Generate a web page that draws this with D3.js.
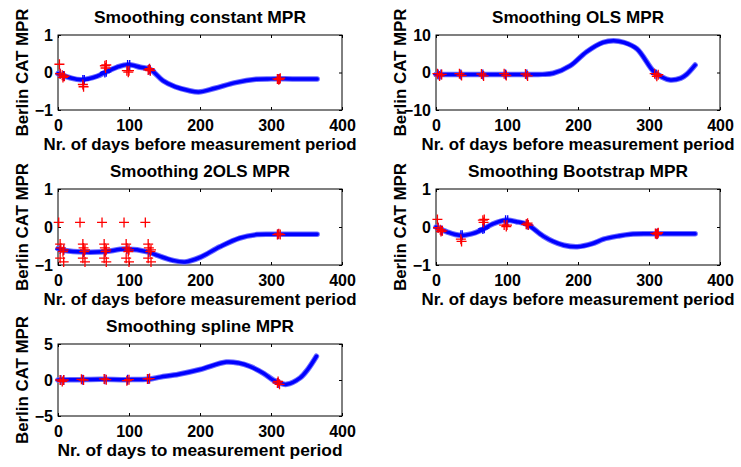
<!DOCTYPE html>
<html>
<head>
<meta charset="utf-8">
<script src="https://cdn.jsdelivr.net/npm/d3@7"></script>
<style>
body { margin: 0; background: #fff; }
svg text { font-family: "Liberation Sans", Arial, sans-serif; font-weight: bold; fill: #000; }
</style>
</head>
<body>
<svg id="fig" width="741" height="467"></svg>
<script>
// shared axis settings
var xTicks = [0, 100, 200, 300, 400];
var labelBefore = "Nr. of days before measurement period";
var labelTo = "Nr. of days to measurement period";
var yLabel = "Berlin CAT MPR";

// panel 1: constant
var constCurveX = [0, 17, 33, 55, 69, 83, 98, 116, 130, 148, 165, 184, 198, 221, 250, 279, 300, 330, 365];
var constCurveY = [-0.03, -0.14, -0.19, -0.1, 0.03, 0.14, 0.21, 0.14, 0.08, -0.22, -0.38, -0.48, -0.52, -0.42, -0.27, -0.18, -0.17, -0.17, -0.17];
var constObsX = [2, 3, 6, 7, 9, 35, 36, 66, 68, 67, 97, 100, 99, 127, 129, 130, 309, 312, 311, 313];
var constObsY = [0.22, -0.03, -0.07, -0.13, -0.1, -0.32, -0.38, 0.18, 0.2, 0.12, 0.05, 0.05, 0.01, 0.07, 0.1, 0.05, -0.17, -0.17, -0.19, -0.15];
var constFitX = [3, 8, 35, 37, 66, 68, 98, 101, 128, 130, 310, 312];
var constFitY = [-0.03, -0.09, -0.2, -0.2, 0.0, 0.02, 0.2, 0.2, 0.08, 0.06, -0.17, -0.17];

// panel 2: OLS
var olsCurveX = [0, 50, 100, 150, 165, 189, 212, 235, 250, 265, 283, 306, 318, 330, 345, 353, 365];
var olsCurveY = [-0.5, -0.5, -0.5, -0.5, -0.2, 1.8, 5.5, 8.0, 8.5, 8.0, 6.3, 0.4, -1.2, -2.0, -1.5, -0.5, 2.0];
var olsObsX = [2, 5, 8, 33, 36, 64, 67, 96, 99, 126, 129, 308, 311, 313];
var olsObsY = [-0.3, -0.9, -0.5, -0.3, -0.8, -0.4, -0.9, -0.3, -0.8, -0.4, -0.9, -0.3, -1.0, -0.6];
var olsFitX = [3, 7, 35, 66, 98, 128, 310];
var olsFitY = [-0.5, -0.5, -0.5, -0.5, -0.5, -0.5, -0.5];

// panel 3: 2OLS
var twoCurveX = [0, 10, 36, 65, 95, 128, 139, 162, 179, 200, 228, 256, 280, 300, 330, 365];
var twoCurveY = [-0.57, -0.62, -0.66, -0.65, -0.58, -0.66, -0.74, -0.88, -0.92, -0.8, -0.52, -0.29, -0.2, -0.19, -0.19, -0.19];
var twoObsX = [1, 31, 62, 93, 123,
  3, 8, 3, 8, 35, 38, 35, 38, 65, 68, 65, 68, 96, 100, 96, 100, 127, 131, 127, 131,
  4, 7, 36, 37, 66, 67, 97, 99, 128, 130, 309, 311, 313];
var twoObsY = [0.12, 0.12, 0.12, 0.12, 0.12,
  -0.45, -0.6, -0.82, -0.92, -0.45, -0.6, -0.82, -0.92, -0.45, -0.6, -0.82, -0.92, -0.45, -0.6, -0.82, -0.92, -0.45, -0.6, -0.82, -0.92,
  -0.55, -0.65, -0.55, -0.65, -0.55, -0.65, -0.55, -0.65, -0.55, -0.65, -0.2, -0.18, -0.2];
var twoFitX = [3, 8, 36, 66, 97, 128, 310];
var twoFitY = [-0.58, -0.6, -0.66, -0.65, -0.58, -0.66, -0.19];

// panel 4: bootstrap
var bootCurveX = [0, 17, 34, 50, 62, 80, 97, 113, 128, 151, 165, 180, 199, 220, 236, 256, 274, 300, 330, 365];
var bootCurveY = [0.0, -0.14, -0.22, -0.18, -0.1, 0.08, 0.18, 0.14, 0.07, -0.24, -0.38, -0.48, -0.52, -0.44, -0.32, -0.24, -0.19, -0.18, -0.18, -0.18];
var bootObsX = [2, 3, 6, 7, 9, 35, 36, 66, 68, 67, 96, 100, 99, 127, 129, 130, 309, 312, 311, 313];
var bootObsY = [0.2, -0.02, -0.07, -0.12, -0.1, -0.32, -0.38, 0.18, 0.2, 0.12, 0.05, 0.05, 0.01, 0.07, 0.1, 0.05, -0.17, -0.17, -0.19, -0.15];
var bootFitX = [3, 8, 35, 37, 66, 68, 98, 101, 128, 130, 310, 312];
var bootFitY = [-0.02, -0.09, -0.22, -0.22, -0.05, -0.03, 0.18, 0.18, 0.07, 0.05, -0.18, -0.18];

// panel 5: spline
var splCurveX = [0, 30, 60, 100, 130, 144, 170, 200, 237, 255, 270, 290, 303, 315, 322, 341, 352, 364];
var splCurveY = [0.0, 0.05, 0.1, 0.05, 0.15, 0.4, 0.8, 1.46, 2.5, 2.35, 1.9, 0.9, 0.0, -0.5, -0.6, 0.3, 1.5, 3.3];
var splObsX = [3, 8, 6, 33, 36, 65, 68, 97, 100, 126, 129, 309, 312, 310];
var splObsY = [0, 0, -0.2, 0.1, 0, 0.15, 0.05, -0.1, 0.05, 0.15, 0.2, -0.4, -0.6, -0.2];
var splFitX = [4, 8, 35, 66, 98, 128, 310];
var splFitY = [0, 0, 0.05, 0.1, 0.05, 0.15, -0.4];

var panels = [
  {title: "Smoothing constant MPR", titleW: 212, xlabel: labelBefore, xlabelW: 313, yDomain: [-1, 1], yTicks: [-1, 0, 1],
   cx: constCurveX, cy: constCurveY, ox: constObsX, oy: constObsY, fx: constFitX, fy: constFitY,
   box: [58, 35, 342, 110]},
  {title: "Smoothing OLS MPR", titleW: 172, xlabel: labelBefore, xlabelW: 313, yDomain: [-10, 10], yTicks: [-10, 0, 10],
   cx: olsCurveX, cy: olsCurveY, ox: olsObsX, oy: olsObsY, fx: olsFitX, fy: olsFitY,
   box: [436, 35, 720, 110]},
  {title: "Smoothing 2OLS MPR", titleW: 180, xlabel: labelBefore, xlabelW: 313, yDomain: [-1, 1], yTicks: [-1, 0, 1],
   cx: twoCurveX, cy: twoCurveY, ox: twoObsX, oy: twoObsY, fx: twoFitX, fy: twoFitY,
   box: [58, 189, 342, 265]},
  {title: "Smoothing Bootstrap MPR", titleW: 220, xlabel: labelBefore, xlabelW: 313, yDomain: [-1, 1], yTicks: [-1, 0, 1],
   cx: bootCurveX, cy: bootCurveY, ox: bootObsX, oy: bootObsY, fx: bootFitX, fy: bootFitY,
   box: [436, 189, 720, 265]},
  {title: "Smoothing spline MPR", titleW: 188, xlabel: labelTo, xlabelW: 285, yDomain: [-5, 5], yTicks: [-5, 0, 5],
   cx: splCurveX, cy: splCurveY, ox: splObsX, oy: splObsY, fx: splFitX, fy: splFitY,
   box: [58, 344, 342, 416]}
];

var svg = d3.select("#fig");
var fmt = function(v){ return v < 0 ? "\u2212" + Math.abs(v) : String(v); };
var plus = "M-5,0H5M0,-5V5";

panels.forEach(function(p){
  var x0 = p.box[0], y0 = p.box[1], x1 = p.box[2], y1 = p.box[3];
  var x = d3.scaleLinear().domain([0, 400]).range([x0, x1]);
  var y = d3.scaleLinear().domain(p.yDomain).range([y1, y0]);
  var g = svg.append("g");

  // bottom / left axes with inward ticks, plus mirrored top / right ticks
  var xa = g.append("g").attr("transform", "translate(0," + y1 + ")")
    .call(d3.axisBottom(x).tickValues(xTicks).tickSizeInner(-3).tickSizeOuter(0).tickPadding(10).tickFormat(fmt));
  var ya = g.append("g").attr("transform", "translate(" + x0 + ",0)")
    .call(d3.axisLeft(y).tickValues(p.yTicks).tickSizeInner(-3).tickSizeOuter(0).tickPadding(5).tickFormat(fmt));
  g.append("g").attr("transform", "translate(0," + y0 + ")")
    .call(d3.axisTop(x).tickValues(xTicks).tickSizeInner(-3).tickSizeOuter(0).tickFormat(""));
  g.append("g").attr("transform", "translate(" + x1 + ",0)")
    .call(d3.axisRight(y).tickValues(p.yTicks).tickSizeInner(-3).tickSizeOuter(0).tickFormat(""));
  g.selectAll(".domain").remove();
  g.selectAll(".tick line").attr("stroke", "#000");
  xa.selectAll("text").style("font-size", "16px").attr("fill", "#000");
  ya.selectAll("text").style("font-size", "16px").attr("fill", "#000");

  g.append("rect").attr("x", x0).attr("y", y0).attr("width", x1 - x0).attr("height", y1 - y0)
    .attr("fill", "none").attr("stroke", "#000").attr("stroke-width", 1);

  // smoothed curve
  var pts = p.cx.map(function(v, i){ return [v, p.cy[i]]; });
  var line = d3.line().x(function(d){ return x(d[0]); }).y(function(d){ return y(d[1]); })
    .curve(d3.curveCatmullRom.alpha(0.5));
  g.append("path").datum(pts).attr("d", line).attr("fill", "none")
    .attr("stroke", "#6a6aff").attr("stroke-width", 5.5).attr("stroke-linecap", "round");
  g.append("path").datum(pts).attr("d", line).attr("fill", "none")
    .attr("stroke", "#0000ff").attr("stroke-width", 3.5).attr("stroke-linecap", "round");

  // fitted markers (blue +) and observations (red +)
  g.selectAll(".fit").data(p.fx.map(function(v, i){ return [v, p.fy[i]]; })).enter()
    .append("path").attr("d", plus)
    .attr("transform", function(d){ return "translate(" + x(d[0]) + "," + y(d[1]) + ")"; })
    .attr("stroke", "#0000ff").attr("stroke-width", 1.3).attr("fill", "none");
  g.selectAll(".obs").data(p.ox.map(function(v, i){ return [v, p.oy[i]]; })).enter()
    .append("path").attr("d", plus)
    .attr("transform", function(d){ return "translate(" + x(d[0]) + "," + y(d[1]) + ")"; })
    .attr("stroke", "#ff0000").attr("stroke-width", 1.3).attr("fill", "none");

  // labels
  g.append("text").attr("x", (x0 + x1) / 2).attr("y", y0 - 12).attr("text-anchor", "middle")
    .attr("textLength", p.titleW).attr("lengthAdjust", "spacingAndGlyphs")
    .style("font-size", "17px").text(p.title);
  g.append("text").attr("x", (x0 + x1) / 2).attr("y", y1 + 40).attr("text-anchor", "middle")
    .attr("textLength", p.xlabelW).attr("lengthAdjust", "spacingAndGlyphs")
    .style("font-size", "16px").text(p.xlabel);
  g.append("text").attr("transform", "translate(" + (x0 - 30) + "," + ((y0 + y1) / 2) + ") rotate(-90)")
    .attr("text-anchor", "middle").attr("textLength", 128).attr("lengthAdjust", "spacingAndGlyphs")
    .style("font-size", "16px").text(yLabel);
});
</script>
</body>
</html>
